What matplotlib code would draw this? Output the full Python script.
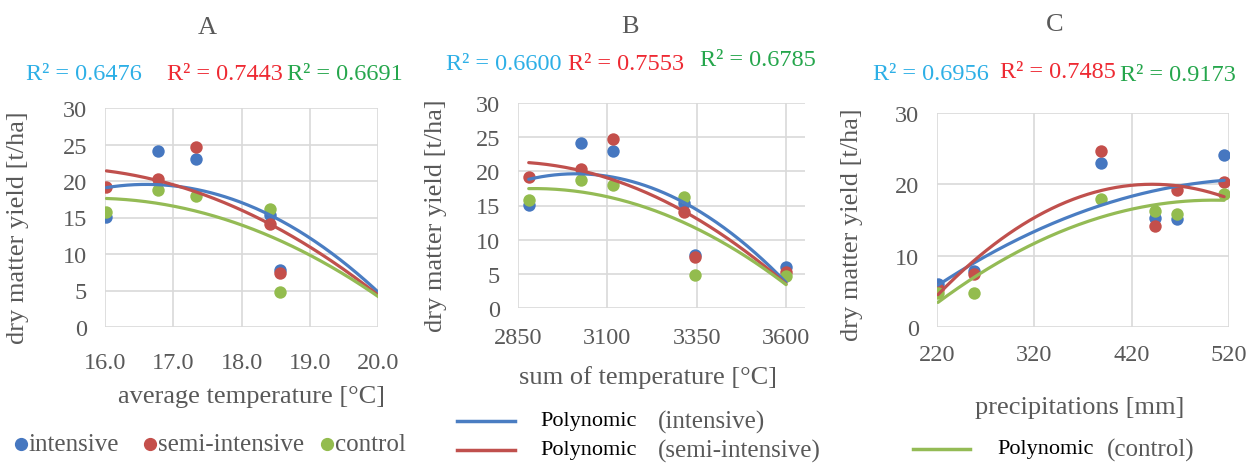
import numpy as np
import matplotlib
matplotlib.use("Agg")
import matplotlib.pyplot as plt
from matplotlib.lines import Line2D

plt.rcParams['font.family'] = ['Liberation Serif', 'DejaVu Serif']

# ---------------- data ----------------
series_names = ['intensive', 'semi-intensive', 'control']
intensive = [15.1, 24.1, 23.0, 15.3, 7.8, 6.0]
semi_intensive = [19.2, 20.3, 24.7, 14.1, 7.4, 5.3]
control = [15.8, 18.7, 18.0, 16.2, 4.8, 4.7]

avg_temperature = [16.02, 16.78, 17.33, 18.42, 18.57, 20.1]
sum_temperature = [2880, 3025, 3116, 3314, 3346, 3600]
precipitations = [467, 515, 388, 444, 258, 221]

r2_A = ['0.6476', '0.7443', '0.6691']
r2_B = ['0.6600', '0.7553', '0.6785']
r2_C = ['0.6956', '0.7485', '0.9173']

xticks_A = [16.0, 17.0, 18.0, 19.0, 20.0]
xticks_B = [2850, 3100, 3350, 3600]
xticks_C = [220, 320, 420, 520]
yticks_AB = [0, 5, 10, 15, 20, 25, 30]
yticks_C = [0, 10, 20, 30]

# ---------------- style ----------------
W, H = 1253, 464
dot_colors = ['#4677C0', '#C44F4B', '#93BC4E']
line_colors = ['#4A7DC2', '#C0504D', '#94BB55']
r2_colors = ['#2DAFE6', '#EE2A33', '#25A64C']
grey = '#595959'
grid = '#D9D9D9'

fig = plt.figure(figsize=(W / 100, H / 100), dpi=100)


def fx(px):
    return px / W


def fy(py):
    return 1 - py / H


def make_axes(l, r, t, b):
    return fig.add_axes([fx(l), fy(b), fx(r) - fx(l), fy(t) - fy(b)])


ys = [intensive, semi_intensive, control]


def panel(ax, xdata, xlim, xticks, xfmt, yticks, xpad):
    for y, dc, lc in zip(ys, dot_colors, line_colors):
        ax.scatter(xdata, y, s=80, color=dc, zorder=3, linewidths=0)
        coef = np.polyfit(xdata, y, 2)
        xx = np.linspace(min(xdata), max(xdata), 200)
        ax.plot(xx, np.polyval(coef, xx), color=lc, lw=2.3, zorder=4,
                solid_capstyle='round')
    ax.set_xlim(*xlim)
    ax.set_ylim(0, 30)
    ax.set_xticks(xticks)
    ax.set_xticklabels([xfmt(v) for v in xticks])
    ax.set_yticks(yticks)
    ax.grid(True, color=grid, lw=1.2)
    ax.set_axisbelow(True)
    for s in ax.spines.values():
        s.set_visible(False)
    ax.tick_params(length=0, labelsize=17.5, labelcolor=grey)
    ax.tick_params(axis='y', pad=13)
    ax.tick_params(axis='x', pad=xpad)


axA = make_axes(105, 378, 109, 328)
panel(axA, avg_temperature, (16, 20), xticks_A, lambda v: f'{v:.1f}', yticks_AB, 18)
axB = make_axes(518, 805, 104, 309)
panel(axB, sum_temperature, (2850, 3653), xticks_B, lambda v: f'{v}', yticks_AB, 14)
axC = make_axes(937, 1229, 114, 328)
panel(axC, precipitations, (220, 520), xticks_C, lambda v: f'{v}', yticks_C, 12.5)

# y labels
for x, yc in [(18, 228), (436, 216), (852, 225)]:
    fig.text(fx(x), fy(yc), 'dry matter yield [t/ha]', rotation=90,
             ha='center', va='center', fontsize=19, color=grey)

# x labels
fig.text(fx(251), fy(397), 'average temperature [°C]', ha='center', va='center',
         fontsize=19, color=grey)
fig.text(fx(648), fy(378), 'sum of temperature [°C]', ha='center', va='center',
         fontsize=19, color=grey)
fig.text(fx(1080), fy(408), 'precipitations [mm]', ha='center', va='center',
         fontsize=19, color=grey)

# titles
for x, y, t in [(207, 28, 'A'), (630, 27, 'B'), (1055, 25, 'C')]:
    fig.text(fx(x), fy(y), t, ha='center', va='center', fontsize=19, color=grey)

# R² texts
r2_layout = [
    (r2_A, [(26, 74), (167, 74), (287, 74)]),
    (r2_B, [(446, 64), (568, 65), (700, 61)]),
    (r2_C, [(873, 75), (1000, 73), (1120, 76)]),
]
for vals, pos in r2_layout:
    for v, (x, y), c in zip(vals, pos, r2_colors):
        fig.text(fx(x), fy(y), f'R² = {v}', ha='left', va='center',
                 fontsize=17.5, color=c)

# legend A (markers)
for name, c, mx, tx in zip(series_names, dot_colors, [21, 150, 327], [28, 158, 335]):
    fig.add_artist(Line2D([fx(mx)], [fy(445)], marker='o', markersize=8.5,
                          color=c, lw=0, transform=fig.transFigure))
    fig.text(fx(tx), fy(445), name, ha='left', va='center', fontsize=18, color=grey)

# legend B / C (trendlines)
for lc, y, x0, x1, tx, px, name in [
    (line_colors[0], 422, 457, 515, 540, 658, '(intensive)'),
    (line_colors[1], 451, 457, 515, 540, 658, '(semi-intensive)'),
    (line_colors[2], 450, 913, 970, 997, 1107, '(control)'),
]:
    fig.add_artist(Line2D([fx(x0), fx(x1)], [fy(y), fy(y)], color=lc, lw=2.5,
                          transform=fig.transFigure))
    fig.text(fx(tx), fy(y), 'Polynomic', ha='left', va='center', fontsize=16,
             color='black')
    fig.text(fx(px), fy(y), name, ha='left', va='center', fontsize=18, color=grey)

fig.savefig('out.png', dpi=100)
